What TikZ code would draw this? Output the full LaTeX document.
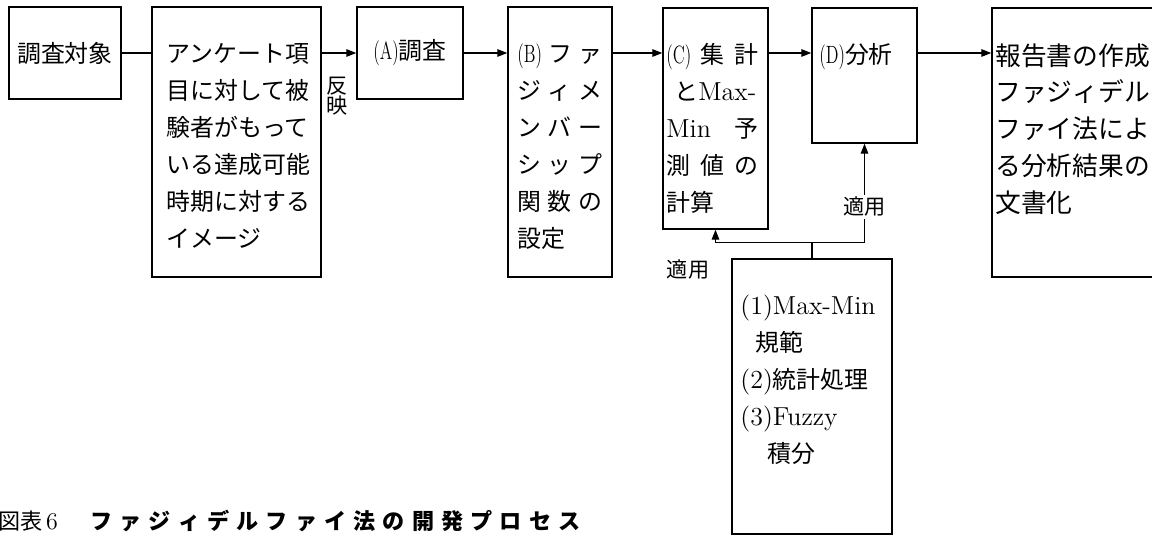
\documentclass[tikz,border=0pt]{standalone}
\usepackage{fontspec}
\usepackage{graphicx}
\newfontfamily\jp[Scale=0.92]{Noto Sans CJK JP}
\usetikzlibrary{arrows.meta,calc}
\tikzset{
  box/.style={draw, line width=0.7pt, inner sep=0pt},
  txt/.style={anchor=north west, inner sep=0pt, align=left, font=\fontsize{13}{18.5}\selectfont\jp},
  arr/.style={-{Triangle[length=5pt,width=3.8pt]}, line width=0.6pt},
  ln/.style={line width=0.6pt},
  lab/.style={inner sep=1pt, font=\fontsize{11.5}{11.5}\selectfont\jp},
}
\newcommand\lt[1]{{\rmfamily #1}}
\newcommand\pl[1]{{\rmfamily\fontsize{12.5}{12.5}\selectfont\scalebox{0.68}[1]{(#1)}}}
\newcommand\spreadline[2]{\makebox[#1][s]{#2}}
\begin{document}
\begin{tikzpicture}[x=0.5pt,y=-0.5pt]
\useasboundingbox (0,0) rectangle (1152,536);
\clip (0,0) rectangle (1152,536);
% boxes
\node[box, minimum width=56pt, minimum height=46pt, font=\fontsize{13}{13}\selectfont\jp] (b1) at (65,53) {調査対象};
\node[box, minimum width=84.5pt, minimum height=135pt] (b2) at (236.5,142) {};
\node[box, minimum width=53pt, minimum height=46pt, font=\fontsize{13}{13}\selectfont\jp] (bA) at (410,53) {\pl{A}調査};
\node[box, minimum width=52pt, minimum height=135pt] (bB) at (560,142) {};
\node[box, minimum width=52.5pt, minimum height=110.5pt] (bC) at (715.5,118.5) {};
\node[box, minimum width=52.5pt, minimum height=67.5pt] (bD) at (864.5,75.5) {};
\node[box, minimum width=88pt, minimum height=134.5pt] (bR) at (1080,142.5) {};
\node[box, minimum width=80pt, minimum height=137.5pt] (bE) at (812,396.5) {};
% texts
\node[txt] (t2) at (166,43) {アンケート項\\目に対して被\\験者がもって\\いる達成可能\\時期に対する\\イメージ};
\node[txt] (tB) at (517,43) {\spreadline{42.5pt}{\pl{B}\hfill フ\hfill ァ}\\
\spreadline{42.5pt}{ジ\hfill ィ\hfill メ}\\
\spreadline{42.5pt}{ン\hfill バ\hfill ー}\\
\spreadline{42.5pt}{シ\hfill ッ\hfill プ}\\
\spreadline{42.5pt}{関\hfill 数\hfill の}\\
設定};
\node[txt] (tC) at (666,43) {\spreadline{46pt}{\pl{C}\hfill 集\hfill 計}\\
\hspace*{4pt}\spreadline{42pt}{と\lt{Max-}}\\
\spreadline{46pt}{\lt{Min}\hfill 予}\\
\spreadline{46pt}{測\hfill 値\hfill の}\\
計算};
\node[txt] (tD) at (819,43) {\pl{D}分析};
\node[txt, font=\fontsize{14}{18.4}\selectfont\jp] (tR) at (995,43) {報告書の作成\\ファジィデル\\ファイ法によ\\る分析結果の\\文書化};
\node[txt] (tE) at (740,295) {\lt{(1)Max-Min}\\
\hspace*{7.5pt}規範\\
\lt{(2)}統計処理\\
\lt{(3)Fuzzy}\\
\hspace*{13.5pt}積分};
% connectors
\draw[ln] (b1.east) -- (b1.east -| b2.west);
\draw[arr] (bA.west -| b2.east) -- (bA.west);
\draw[arr] (bA.east) -- (bA.east -| bB.west);
\draw[arr] (bA.east -| bB.east) -- (bA.east -| bC.west);
\draw[arr] (bA.east -| bC.east) -- (bA.east -| bD.west);
\draw[arr] (bA.east -| bD.east) -- (bA.east -| bR.west);
\node[lab, align=center, font=\fontsize{11.5}{10}\selectfont\jp] (hanei) at (337,96) {反\\映};
\coordinate (j) at ($(bE.north)+(0,-16)$);
\draw[ln] (bE.north) -- (j);
\draw[arr] (j) -| (bC.south);
\draw[arr] (j) -| node[pos=0.68, lab, fill=white] (ap2) {適用} (bD.south);
\node[lab] (ap1) at (688,270) {適用};
% caption
\node[anchor=west, inner sep=0pt, font=\fontsize{12}{12}\selectfont\jp] (cap1) at (-2,521) {図表\,\lt{6}};
\node[anchor=west, inner sep=0pt, font=\fontsize{12}{12}\selectfont\jp\bfseries] (cap2) at (90,521) {\makebox[245pt][s]{フ\hfill ァ\hfill ジ\hfill ィ\hfill デ\hfill ル\hfill フ\hfill ァ\hfill イ\hfill 法\hfill の\hfill 開\hfill 発\hfill プ\hfill ロ\hfill セ\hfill ス}};
\end{tikzpicture}
\end{document}
